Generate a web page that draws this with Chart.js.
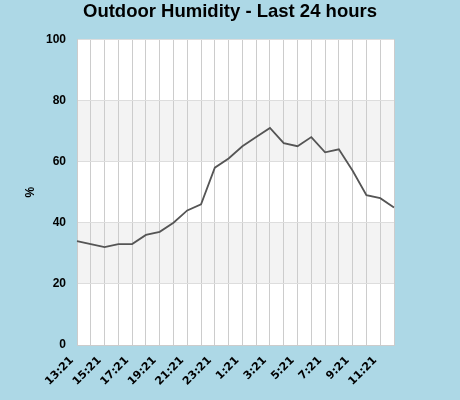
<!DOCTYPE html>
<html>
<head>
<meta charset="utf-8">
<script src="https://cdn.jsdelivr.net/npm/chart.js@4.4.1/dist/chart.umd.min.js"></script>
<style>
  html, body { margin: 0; padding: 0; background: #add8e6; }
  #wrap { width: 460px; height: 400px; position: relative; }
</style>
</head>
<body>
<div id="wrap"><canvas id="chart"></canvas></div>
<script>
const times = ["13:21", "14:21", "15:21", "16:21", "17:21", "18:21", "19:21", "20:21",
  "21:21", "22:21", "23:21", "0:21", "1:21", "2:21", "3:21", "4:21", "5:21", "6:21",
  "7:21", "8:21", "9:21", "10:21", "11:21", "12:21"];
const humidity = [34, 33, 32, 33, 33, 36, 37, 40, 44, 46, 58, 61, 65, 68, 71, 66, 65, 68,
  63, 64, 57, 49, 48, 45];
const yTicks = [0, 20, 40, 60, 80, 100];

// grey bands behind the plot: 20-40 and 60-80
const bands = {
  id: "bands",
  beforeDraw(chart) {
    const { ctx, chartArea, scales } = chart;
    ctx.save();
    ctx.fillStyle = "#ffffff";
    ctx.fillRect(chartArea.left, chartArea.top, chartArea.width, chartArea.height);
    ctx.fillStyle = "#f3f3f3";
    [[20, 40], [60, 80]].forEach(([lo, hi]) => {
      const y1 = scales.y.getPixelForValue(hi);
      const y2 = scales.y.getPixelForValue(lo);
      ctx.fillRect(chartArea.left, y1, chartArea.width, y2 - y1);
    });
    ctx.restore();
  }
};

const yFont = { family: "'Liberation Sans', Arial, sans-serif", size: 12, weight: "bold" };
const xFont = { family: "'DejaVu Sans', Verdana, sans-serif", size: 11, weight: "bold" };

new Chart(document.getElementById("chart"), {
  type: "line",
  data: {
    labels: times,
    datasets: [{
      data: humidity,
      borderColor: "#555555",
      borderWidth: 1.8,
      pointRadius: 0,
      tension: 0,
      fill: false
    }]
  },
  options: {
    responsive: true,
    maintainAspectRatio: false,
    animation: false,
    layout: { padding: 0 },
    plugins: {
      legend: { display: false },
      tooltip: { enabled: false },
      title: {
        display: true,
        text: "Outdoor Humidity - Last 24 hours",
        color: "#000",
        font: { family: "'Liberation Sans', Arial, sans-serif", size: 18.5, weight: "bold" },
        padding: { top: 1, bottom: 16 }
      }
    },
    scales: {
      x: {
        offset: false,
        grid: { color: "#cccccc", drawTicks: false },
        border: { color: "#cccccc" },
        ticks: {
          autoSkip: false,
          maxRotation: 45,
          minRotation: 45,
          padding: 9,
          labelOffset: -5,
          color: "#000",
          font: xFont,
          callback: (v, i) => (i % 2 === 0 ? times[i] : "")
        },
        afterFit: (s) => { s.height = 55; }
      },
      y: {
        min: 0,
        max: 100,
        afterBuildTicks: (s) => { s.ticks = yTicks.map((v) => ({ value: v })); },
        grid: { color: "#dddddd", drawTicks: false },
        border: { color: "#cccccc" },
        ticks: { padding: 11, color: "#000", font: yFont },
        title: {
          display: true,
          text: "%",
          color: "#000",
          font: yFont,
          padding: { top: 23, bottom: 0 }
        },
        afterFit: (s) => { s.width = 77; }
      },
      // empty right axis, only reserves the margin right of the plot
      yr: {
        position: "right",
        min: 0,
        max: 100,
        grid: { display: false, drawTicks: false },
        border: { display: false },
        ticks: { display: false },
        afterFit: (s) => { s.width = 66; }
      }
    }
  },
  plugins: [bands]
});
</script>
</body>
</html>
